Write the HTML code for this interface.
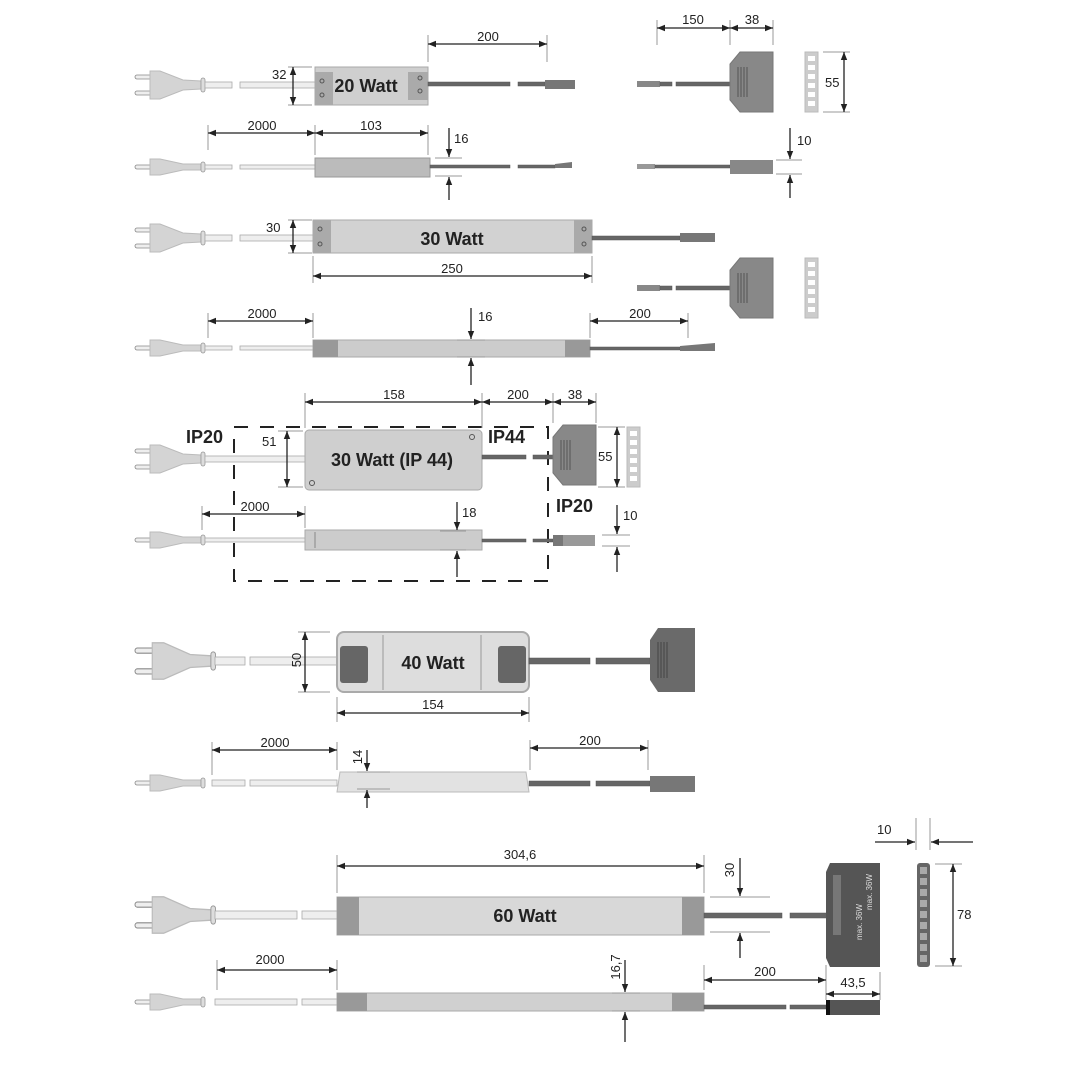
<!DOCTYPE html>
<html><head><meta charset="utf-8"><style>
html,body{margin:0;padding:0;background:#fff}
svg{display:block}
text{font-family:"Liberation Sans","DejaVu Sans",sans-serif;fill:#222}
.d{stroke:#222;stroke-width:1.3;fill:none;marker-start:url(#a);marker-end:url(#a)}
.e{stroke:#999;stroke-width:1}
.t{font-size:13px}
.b{font-weight:bold;font-size:18px}
.w{fill:#eee;stroke:#aaa;stroke-width:.8}
.k{fill:#666;stroke:#555;stroke-width:.5}
.box{fill:#cfcfcf;stroke:#aaa;stroke-width:1}
</style></head><body>
<svg width="1080" height="1080" viewBox="0 0 1080 1080" xmlns="http://www.w3.org/2000/svg">
<defs>
<marker id="a" viewBox="0 0 10 10" refX="10" refY="5" markerWidth="8" markerHeight="8" orient="auto-start-reverse" markerUnits="userSpaceOnUse"><path d="M0,1 L10,5 L0,9 Z" fill="#222"/></marker>
<g id="pt">
<rect x="0" y="-10" width="17" height="4" rx="2" fill="#eee" stroke="#888" stroke-width=".8"/>
<rect x="0" y="6" width="17" height="4" rx="2" fill="#eee" stroke="#888" stroke-width=".8"/>
<path d="M15,-14 L25,-14 L48,-5 L66,-4 L66,4 L48,5 L25,14 L15,14 Z" fill="#d4d4d4" stroke="#bbb"/>
<rect x="66" y="-7" width="4" height="14" rx="2" fill="#ddd" stroke="#999" stroke-width=".8"/>
</g>
<g id="ps">
<rect x="0" y="-2" width="17" height="4" rx="2" fill="#eee" stroke="#888" stroke-width=".8"/>
<path d="M15,-8 L25,-8 L48,-3 L66,-3 L66,3 L48,3 L25,8 L15,8 Z" fill="#d4d4d4" stroke="#bbb"/>
<rect x="66" y="-5" width="4" height="10" rx="2" fill="#ddd" stroke="#999" stroke-width=".8"/>
</g>
<g id="dist">
<path d="M10,0 L43,0 L43,60 L10,60 L0,48 L0,12 Z" fill="#888" stroke="#777"/>
<g stroke="#555" stroke-width="1"><line x1="8" y1="15" x2="8" y2="45"/><line x1="11" y1="15" x2="11" y2="45"/><line x1="14" y1="15" x2="14" y2="45"/><line x1="17" y1="15" x2="17" y2="45"/></g>
</g>
<g id="strip">
<rect x="0" y="0" width="13" height="60" fill="#ccc" stroke="#bbb"/>
<g fill="#fff"><rect x="3" y="4" width="7" height="5"/><rect x="3" y="13" width="7" height="5"/><rect x="3" y="22" width="7" height="5"/><rect x="3" y="31" width="7" height="5"/><rect x="3" y="40" width="7" height="5"/><rect x="3" y="49" width="7" height="5"/></g>
</g>
</defs>

<!-- ROW 1 -->
<use href="#pt" x="135" y="85"/>
<rect class="w" x="205" y="82" width="27" height="6"/><rect class="w" x="240" y="82" width="75" height="6"/>
<path d="M315,67 L428,67 L428,105 L315,105 Z" class="box"/>
<rect x="315" y="72" width="18" height="33" fill="#aaa"/><rect x="408" y="72" width="20" height="28" fill="#aaa"/>
<circle cx="322" cy="81" r="2" fill="none" stroke="#555"/><circle cx="322" cy="95" r="2" fill="none" stroke="#555"/>
<circle cx="420" cy="78" r="2" fill="none" stroke="#555"/><circle cx="420" cy="91" r="2" fill="none" stroke="#555"/>
<text x="366" y="92" class="b" text-anchor="middle">20 Watt</text>
<line class="e" x1="288" y1="67" x2="312" y2="67"/><line class="e" x1="288" y1="105" x2="312" y2="105"/>
<line class="d" x1="293" y1="67" x2="293" y2="105"/><text x="272" y="79" class="t">32</text>
<line class="e" x1="428" y1="35" x2="428" y2="62"/><line class="e" x1="547" y1="35" x2="547" y2="62"/>
<line class="d" x1="428" y1="44" x2="547" y2="44"/><text x="488" y="41" class="t" text-anchor="middle">200</text>
<rect class="k" x="428" y="82" width="82" height="4"/><rect class="k" x="518" y="82" width="27" height="4"/>
<rect x="545" y="80" width="30" height="9" fill="#777"/>

<rect x="637" y="81" width="23" height="6" fill="#888"/><rect class="k" x="660" y="82" width="12" height="4"/><rect class="k" x="676" y="82" width="54" height="4"/>
<use href="#dist" x="730" y="52"/>
<line class="e" x1="657" y1="20" x2="657" y2="45"/><line class="e" x1="730" y1="20" x2="730" y2="45"/><line class="e" x1="773" y1="20" x2="773" y2="45"/>
<line class="d" x1="657" y1="28" x2="730" y2="28"/><line class="d" x1="730" y1="28" x2="773" y2="28"/>
<text x="693" y="24" class="t" text-anchor="middle">150</text><text x="752" y="24" class="t" text-anchor="middle">38</text>
<use href="#strip" x="805" y="52"/>
<line class="e" x1="823" y1="52" x2="850" y2="52"/><line class="e" x1="823" y1="112" x2="850" y2="112"/>
<line class="d" x1="844" y1="52" x2="844" y2="112"/><text x="825" y="87" class="t">55</text>

<!-- ROW 2 -->
<use href="#ps" x="135" y="167"/>
<rect class="w" x="205" y="165" width="27" height="4"/><rect class="w" x="240" y="165" width="75" height="4"/>
<rect x="315" y="158" width="115" height="19" fill="#bbb" stroke="#999"/>
<line class="e" x1="208" y1="125" x2="208" y2="150"/><line class="e" x1="315" y1="125" x2="315" y2="155"/><line class="e" x1="428" y1="125" x2="428" y2="155"/>
<line class="d" x1="208" y1="133" x2="315" y2="133"/><line class="d" x1="315" y1="133" x2="428" y2="133"/>
<text x="262" y="130" class="t" text-anchor="middle">2000</text><text x="371" y="130" class="t" text-anchor="middle">103</text>
<line class="e" x1="435" y1="158" x2="462" y2="158"/><line class="e" x1="435" y1="176" x2="462" y2="176"/>
<line stroke="#222" stroke-width="1.3" x1="449" y1="128" x2="449" y2="157" marker-end="url(#a)"/>
<line stroke="#222" stroke-width="1.3" x1="449" y1="200" x2="449" y2="177" marker-end="url(#a)"/>
<text x="454" y="143" class="t">16</text>
<rect class="k" x="430" y="165" width="80" height="3"/><rect class="k" x="518" y="165" width="37" height="3"/><path d="M555,164 L572,162 L572,168 L555,168Z" fill="#777"/>
<rect x="637" y="164" width="18" height="5" fill="#999"/><rect class="k" x="655" y="165" width="75" height="3"/>
<rect x="730" y="160" width="43" height="14" fill="#888"/>
<line class="e" x1="776" y1="160" x2="802" y2="160"/><line class="e" x1="776" y1="174" x2="802" y2="174"/>
<line stroke="#222" stroke-width="1.3" x1="790" y1="128" x2="790" y2="159" marker-end="url(#a)"/>
<line stroke="#222" stroke-width="1.3" x1="790" y1="198" x2="790" y2="175" marker-end="url(#a)"/>
<text x="797" y="145" class="t">10</text>

<!-- ROW 3 -->
<use href="#pt" x="135" y="238"/>
<rect class="w" x="205" y="235" width="27" height="6"/><rect class="w" x="240" y="235" width="73" height="6"/>
<rect x="313" y="220" width="279" height="33" fill="#d2d2d2" stroke="#aaa"/>
<rect x="313" y="220" width="18" height="33" fill="#aaa"/><rect x="574" y="220" width="18" height="33" fill="#aaa"/>
<circle cx="320" cy="229" r="2" fill="none" stroke="#555"/><circle cx="320" cy="244" r="2" fill="none" stroke="#555"/>
<circle cx="584" cy="229" r="2" fill="none" stroke="#555"/><circle cx="584" cy="244" r="2" fill="none" stroke="#555"/>
<text x="452" y="245" class="b" text-anchor="middle">30 Watt</text>
<line class="e" x1="288" y1="220" x2="312" y2="220"/><line class="e" x1="288" y1="253" x2="312" y2="253"/>
<line class="d" x1="293" y1="220" x2="293" y2="253"/><text x="266" y="232" class="t">30</text>
<line class="e" x1="313" y1="256" x2="313" y2="283"/><line class="e" x1="592" y1="256" x2="592" y2="283"/>
<line class="d" x1="313" y1="276" x2="592" y2="276"/><text x="452" y="273" class="t" text-anchor="middle">250</text>
<rect class="k" x="592" y="236" width="88" height="4"/><rect x="680" y="233" width="35" height="9" fill="#777"/>
<rect x="637" y="285" width="23" height="6" fill="#888"/><rect class="k" x="660" y="286" width="12" height="4"/><rect class="k" x="676" y="286" width="54" height="4"/>
<use href="#dist" x="730" y="258"/><use href="#strip" x="805" y="258"/>

<!-- ROW 4 -->
<use href="#ps" x="135" y="348"/>
<rect class="w" x="205" y="346" width="27" height="4"/><rect class="w" x="240" y="346" width="73" height="4"/>
<rect x="313" y="340" width="277" height="17" fill="#ccc" stroke="#aaa"/>
<rect x="313" y="340" width="25" height="17" fill="#999"/><rect x="565" y="340" width="25" height="17" fill="#999"/>
<line class="e" x1="208" y1="313" x2="208" y2="338"/><line class="e" x1="313" y1="313" x2="313" y2="338"/>
<line class="d" x1="208" y1="321" x2="313" y2="321"/><text x="262" y="318" class="t" text-anchor="middle">2000</text>
<line class="e" x1="590" y1="313" x2="590" y2="338"/><line class="e" x1="688" y1="313" x2="688" y2="338"/>
<line class="d" x1="590" y1="321" x2="688" y2="321"/><text x="640" y="318" class="t" text-anchor="middle">200</text>
<line class="e" x1="457" y1="340" x2="485" y2="340"/><line class="e" x1="457" y1="357" x2="485" y2="357"/>
<line stroke="#222" stroke-width="1.3" x1="471" y1="308" x2="471" y2="339" marker-end="url(#a)"/>
<line stroke="#222" stroke-width="1.3" x1="471" y1="385" x2="471" y2="358" marker-end="url(#a)"/>
<text x="478" y="321" class="t">16</text>
<rect class="k" x="590" y="347" width="90" height="3"/><path d="M680,346 L715,343 L715,351 L680,351Z" fill="#777"/>

<!-- DASHED BOX -->
<path d="M234,427 L548,427 L548,581 L234,581 Z" fill="none" stroke="#222" stroke-width="2" stroke-dasharray="14,12"/>
<!-- ROW 5 -->
<text x="186" y="443" class="b">IP20</text>
<use href="#pt" x="135" y="459"/>
<rect class="w" x="205" y="456" width="100" height="6"/>
<rect x="305" y="430" width="177" height="60" rx="4" fill="#cfcfcf" stroke="#aaa"/>
<circle cx="472" cy="437" r="2.5" fill="none" stroke="#555"/><circle cx="312" cy="483" r="2.5" fill="none" stroke="#555"/>
<text x="392" y="466" class="b" text-anchor="middle">30 Watt (IP 44)</text>
<line class="e" x1="278" y1="431" x2="303" y2="431"/><line class="e" x1="278" y1="487" x2="303" y2="487"/>
<line class="d" x1="287" y1="431" x2="287" y2="487"/><text x="262" y="446" class="t">51</text>
<line class="e" x1="305" y1="393" x2="305" y2="428"/><line class="e" x1="482" y1="393" x2="482" y2="428"/><line class="e" x1="553" y1="393" x2="553" y2="423"/><line class="e" x1="596" y1="393" x2="596" y2="423"/>
<line class="d" x1="305" y1="402" x2="482" y2="402"/><line class="d" x1="482" y1="402" x2="553" y2="402"/><line class="d" x1="553" y1="402" x2="596" y2="402"/>
<text x="394" y="399" class="t" text-anchor="middle">158</text><text x="518" y="399" class="t" text-anchor="middle">200</text><text x="575" y="399" class="t" text-anchor="middle">38</text>
<text x="488" y="443" class="b">IP44</text>
<rect class="k" x="482" y="455" width="44" height="4"/><rect class="k" x="533" y="455" width="20" height="4"/>
<use href="#dist" x="553" y="425"/>
<use href="#strip" x="627" y="427"/>
<line class="e" x1="598" y1="427" x2="625" y2="427"/><line class="e" x1="598" y1="487" x2="625" y2="487"/>
<line class="d" x1="617" y1="427" x2="617" y2="487"/><text x="598" y="461" class="t">55</text>
<!-- ROW 6 -->
<use href="#ps" x="135" y="540"/>
<rect class="w" x="205" y="538" width="100" height="4"/>
<rect x="305" y="530" width="177" height="20" fill="#ccc" stroke="#aaa"/>
<line x1="315" y1="532" x2="315" y2="548" stroke="#888"/>
<line class="e" x1="202" y1="506" x2="202" y2="530"/><line class="e" x1="305" y1="506" x2="305" y2="528"/>
<line class="d" x1="202" y1="514" x2="305" y2="514"/><text x="255" y="511" class="t" text-anchor="middle">2000</text>
<line class="e" x1="440" y1="531" x2="466" y2="531"/><line class="e" x1="440" y1="550" x2="466" y2="550"/>
<line stroke="#222" stroke-width="1.3" x1="457" y1="502" x2="457" y2="530" marker-end="url(#a)"/>
<line stroke="#222" stroke-width="1.3" x1="457" y1="577" x2="457" y2="551" marker-end="url(#a)"/>
<text x="462" y="517" class="t">18</text>
<text x="556" y="512" class="b">IP20</text>
<rect class="k" x="482" y="539" width="44" height="3"/><rect class="k" x="533" y="539" width="20" height="3"/>
<rect x="553" y="535" width="42" height="11" fill="#999"/><rect x="553" y="535" width="10" height="11" fill="#777"/>
<line class="e" x1="602" y1="535" x2="630" y2="535"/><line class="e" x1="602" y1="546" x2="630" y2="546"/>
<line stroke="#222" stroke-width="1.3" x1="617" y1="505" x2="617" y2="534" marker-end="url(#a)"/>
<line stroke="#222" stroke-width="1.3" x1="617" y1="572" x2="617" y2="547" marker-end="url(#a)"/>
<text x="623" y="520" class="t">10</text>

<!-- ROW 7 -->
<use href="#pt" transform="translate(135,661) scale(1.15,1.3)"/>
<rect class="w" x="215" y="657" width="30" height="8"/><rect class="w" x="250" y="657" width="87" height="8"/>
<rect x="337" y="632" width="192" height="60" rx="7" fill="#ddd" stroke="#aaa" stroke-width="2"/>
<rect x="340" y="646" width="28" height="37" rx="3" fill="#666"/><rect x="498" y="646" width="28" height="37" rx="3" fill="#666"/>
<line x1="383" y1="635" x2="383" y2="690" stroke="#999"/><line x1="481" y1="635" x2="481" y2="690" stroke="#999"/>
<text x="433" y="669" class="b" text-anchor="middle">40 Watt</text>
<line class="e" x1="298" y1="632" x2="330" y2="632"/><line class="e" x1="298" y1="692" x2="330" y2="692"/>
<line class="d" x1="305" y1="632" x2="305" y2="692"/><text x="301" y="660" class="t" transform="rotate(-90 301 660)" text-anchor="middle">50</text>
<line class="e" x1="337" y1="697" x2="337" y2="722"/><line class="e" x1="529" y1="697" x2="529" y2="722"/>
<line class="d" x1="337" y1="713" x2="529" y2="713"/><text x="433" y="709" class="t" text-anchor="middle">154</text>
<rect class="k" x="529" y="658" width="61" height="6"/><rect class="k" x="596" y="658" width="54" height="6"/>
<path d="M658,628 L695,628 L695,692 L658,692 L650,680 L650,640 Z" fill="#6a6a6a"/>
<g stroke="#444"><line x1="658" y1="642" x2="658" y2="678"/><line x1="661" y1="642" x2="661" y2="678"/><line x1="664" y1="642" x2="664" y2="678"/><line x1="667" y1="642" x2="667" y2="678"/></g>
<!-- ROW 8 -->
<use href="#ps" x="135" y="783"/>
<rect class="w" x="212" y="780" width="33" height="6"/><rect class="w" x="250" y="780" width="87" height="6"/>
<path d="M340,772 L526,772 L529,792 L337,792 Z" fill="#e2e2e2" stroke="#bbb"/>
<line class="e" x1="212" y1="742" x2="212" y2="775"/><line class="e" x1="337" y1="742" x2="337" y2="770"/>
<line class="d" x1="212" y1="750" x2="337" y2="750"/><text x="275" y="747" class="t" text-anchor="middle">2000</text>
<line class="e" x1="530" y1="740" x2="530" y2="770"/><line class="e" x1="648" y1="740" x2="648" y2="770"/>
<line class="d" x1="530" y1="748" x2="648" y2="748"/><text x="590" y="745" class="t" text-anchor="middle">200</text>
<line class="e" x1="357" y1="772" x2="390" y2="772"/><line class="e" x1="357" y1="789" x2="390" y2="789"/>
<line stroke="#222" stroke-width="1.3" x1="367" y1="750" x2="367" y2="771" marker-end="url(#a)"/>
<line stroke="#222" stroke-width="1.3" x1="367" y1="808" x2="367" y2="790" marker-end="url(#a)"/>
<text x="362" y="757" class="t" transform="rotate(-90 362 757)" text-anchor="middle">14</text>
<rect class="k" x="529" y="781" width="61" height="5"/><rect class="k" x="596" y="781" width="54" height="5"/>
<rect x="650" y="776" width="45" height="16" fill="#777"/>

<!-- ROW 9 -->
<use href="#pt" transform="translate(135,915) scale(1.15,1.3)"/>
<rect class="w" x="215" y="911" width="82" height="8"/><rect class="w" x="302" y="911" width="35" height="8"/>
<rect x="337" y="897" width="367" height="38" fill="#d8d8d8" stroke="#aaa"/>
<rect x="337" y="897" width="22" height="38" fill="#999"/><rect x="682" y="897" width="22" height="38" fill="#999"/>
<text x="525" y="922" class="b" text-anchor="middle">60 Watt</text>
<line class="e" x1="337" y1="855" x2="337" y2="893"/><line class="e" x1="704" y1="855" x2="704" y2="893"/>
<line class="d" x1="337" y1="866" x2="704" y2="866"/><text x="520" y="859" class="t" text-anchor="middle">304,6</text>
<line class="e" x1="710" y1="897" x2="770" y2="897"/><line class="e" x1="710" y1="932" x2="770" y2="932"/>
<line stroke="#222" stroke-width="1.3" x1="740" y1="858" x2="740" y2="896" marker-end="url(#a)"/>
<line stroke="#222" stroke-width="1.3" x1="740" y1="958" x2="740" y2="933" marker-end="url(#a)"/>
<text x="734" y="870" class="t" transform="rotate(-90 734 870)" text-anchor="middle">30</text>
<rect class="k" x="704" y="913" width="78" height="5"/><rect class="k" x="790" y="913" width="37" height="5"/>
<path d="M830,863 L880,863 L880,967 L830,967 L826,958 L826,872 Z" fill="#555"/>
<rect x="833" y="875" width="8" height="60" fill="#777"/>
<text x="862" y="940" font-size="8" style="fill:#ddd" transform="rotate(-90 862 940)">max. 36W</text>
<text x="872" y="910" font-size="8" style="fill:#ddd" transform="rotate(-90 872 910)">max. 36W</text>
<rect x="917" y="863" width="13" height="104" rx="3" fill="#666"/>
<g fill="#aaa"><rect x="920" y="867" width="7" height="7"/><rect x="920" y="878" width="7" height="7"/><rect x="920" y="889" width="7" height="7"/><rect x="920" y="900" width="7" height="7"/><rect x="920" y="911" width="7" height="7"/><rect x="920" y="922" width="7" height="7"/><rect x="920" y="933" width="7" height="7"/><rect x="920" y="944" width="7" height="7"/><rect x="920" y="955" width="7" height="7"/></g>
<line class="e" x1="916" y1="818" x2="916" y2="850"/><line class="e" x1="930" y1="818" x2="930" y2="850"/>
<line stroke="#222" stroke-width="1.3" x1="875" y1="842" x2="915" y2="842" marker-end="url(#a)"/>
<line stroke="#222" stroke-width="1.3" x1="973" y1="842" x2="931" y2="842" marker-end="url(#a)"/>
<text x="877" y="834" class="t">10</text>
<line class="e" x1="935" y1="864" x2="962" y2="864"/><line class="e" x1="935" y1="966" x2="962" y2="966"/>
<line class="d" x1="953" y1="864" x2="953" y2="966"/><text x="957" y="919" class="t">78</text>
<!-- ROW 10 -->
<use href="#ps" x="135" y="1002"/>
<rect class="w" x="215" y="999" width="82" height="6"/><rect class="w" x="302" y="999" width="35" height="6"/>
<rect x="337" y="993" width="367" height="18" fill="#d0d0d0" stroke="#aaa"/>
<rect x="337" y="993" width="30" height="18" fill="#999"/><rect x="672" y="993" width="32" height="18" fill="#999"/>
<line class="e" x1="217" y1="960" x2="217" y2="990"/><line class="e" x1="337" y1="960" x2="337" y2="990"/>
<line class="d" x1="217" y1="970" x2="337" y2="970"/><text x="270" y="964" class="t" text-anchor="middle">2000</text>
<line class="e" x1="612" y1="993" x2="640" y2="993"/><line class="e" x1="612" y1="1011" x2="640" y2="1011"/>
<line stroke="#222" stroke-width="1.3" x1="625" y1="960" x2="625" y2="992" marker-end="url(#a)"/>
<line stroke="#222" stroke-width="1.3" x1="625" y1="1042" x2="625" y2="1012" marker-end="url(#a)"/>
<text x="620" y="967" class="t" transform="rotate(-90 620 967)" text-anchor="middle">16,7</text>
<line class="e" x1="704" y1="965" x2="704" y2="990"/><line class="e" x1="826" y1="965" x2="826" y2="1000"/><line class="e" x1="880" y1="972" x2="880" y2="1000"/>
<line class="d" x1="704" y1="980" x2="826" y2="980"/><text x="765" y="976" class="t" text-anchor="middle">200</text>
<line class="d" x1="826" y1="994" x2="880" y2="994"/><text x="853" y="987" class="t" text-anchor="middle">43,5</text>
<rect class="k" x="704" y="1005" width="82" height="4"/><rect class="k" x="790" y="1005" width="36" height="4"/>
<rect x="826" y="1000" width="54" height="15" fill="#555"/><rect x="826" y="1000" width="4" height="15" fill="#111"/>
</svg>
</body></html>
